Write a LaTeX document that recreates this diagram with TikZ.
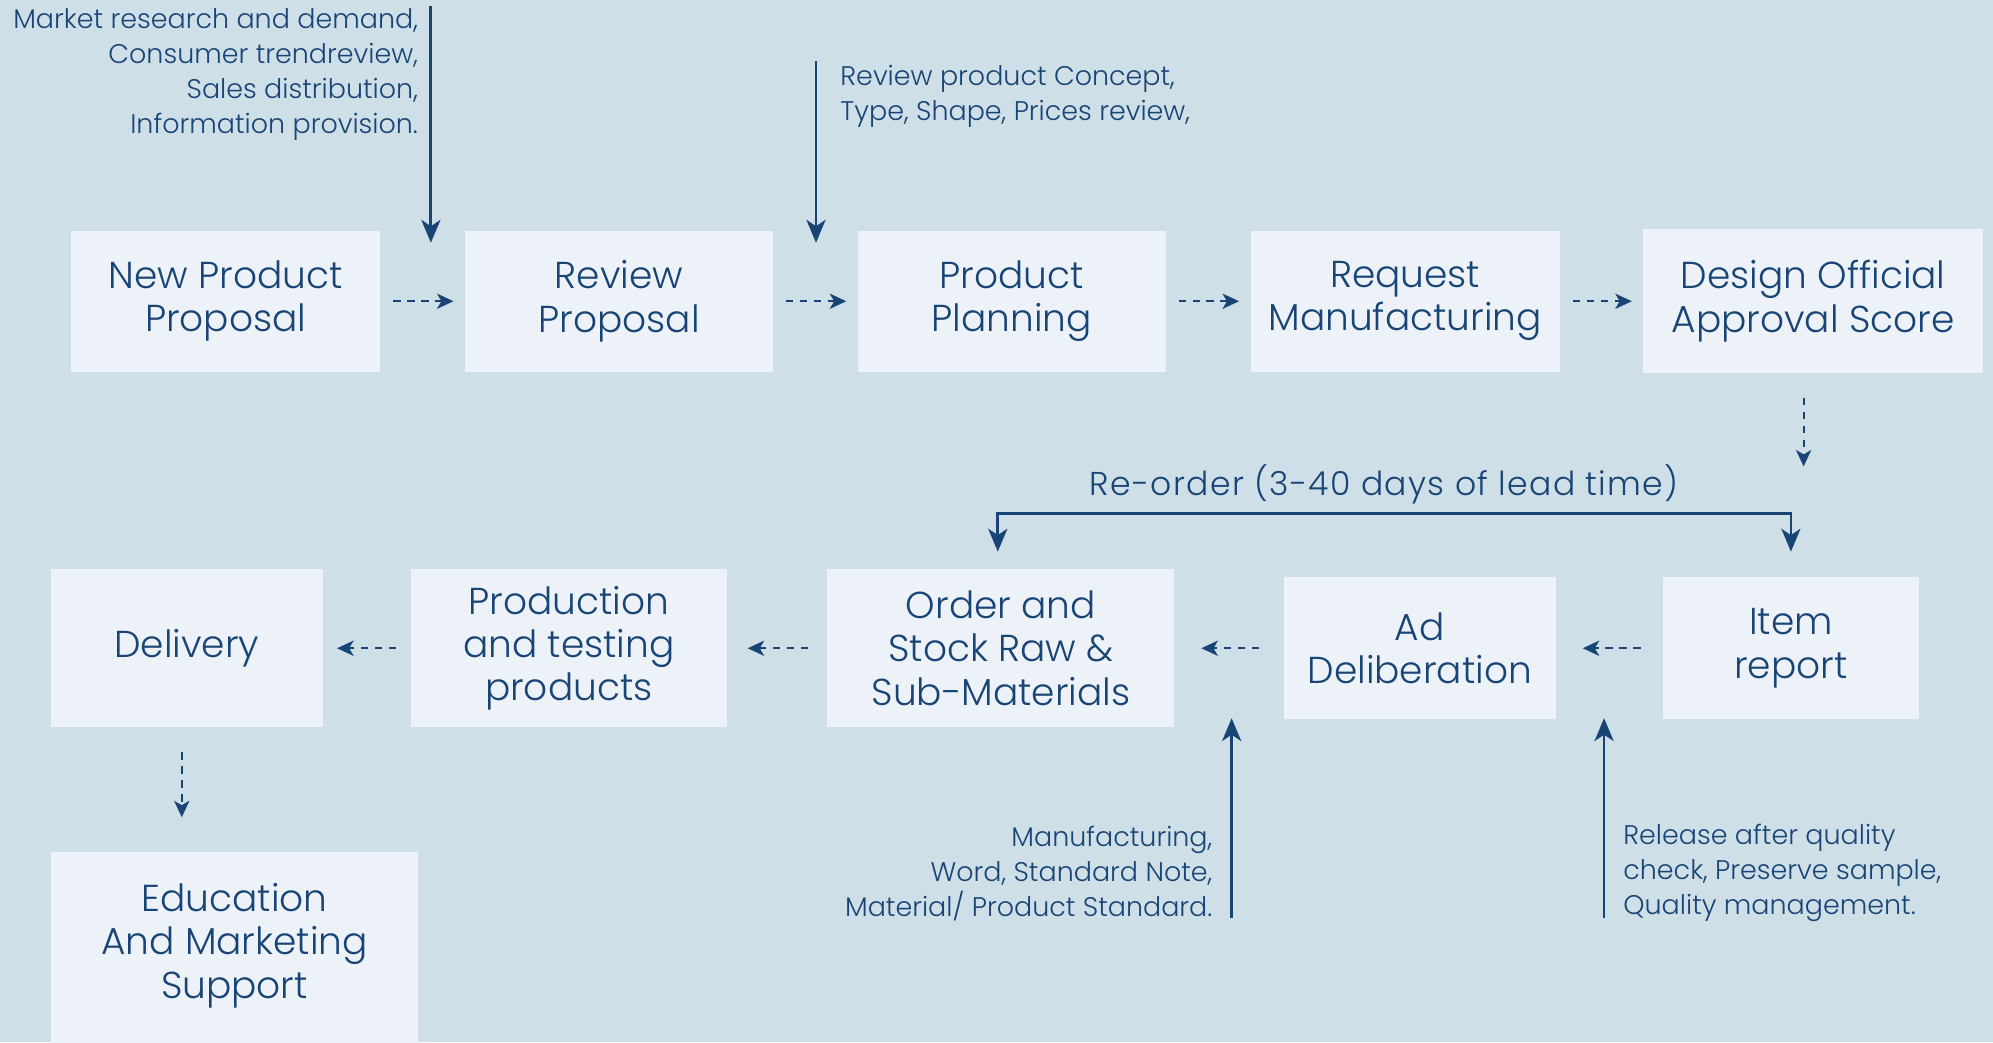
\documentclass[tikz,border=0pt]{standalone}
\usepackage{fontspec}
\setmainfont{Poppins}[UprightFont=* Light]
\usetikzlibrary{arrows.meta}
\definecolor{bg}{RGB}{207,223,232}
\definecolor{boxc}{RGB}{236,242,247}
\definecolor{navy}{RGB}{24,68,118}
\tikzset{
  box/.style={fill=boxc, inner sep=0pt, align=center, text=navy, font=\fontsize{29.5}{34}\selectfont},
  note/.style={inner sep=0pt, text=navy, font=\fontsize{21.2}{27.5}\selectfont},
  darr/.style={draw=navy, line width=1.5pt, dash pattern=on 6pt off 5pt, -{Stealth[length=13pt,width=12pt,inset=3.5pt]}},
  sarr/.style={draw=navy, line width=2.2pt, -{Stealth[length=18pt,width=15pt,inset=5pt]}},
}
\begin{document}
\begin{tikzpicture}[x=1pt,y=-1pt]
\fill[bg] (0,0) rectangle (1568,820);
\useasboundingbox (0,0) rectangle (1568,820);

% top row
\node[box, minimum width=243pt, minimum height=111pt] (b1) at (177.5,237) {New Product\\Proposal};
\node[box, minimum width=242pt, minimum height=111pt] (b2) at (487,237) {Review\\Proposal};
\node[box, minimum width=242pt, minimum height=111pt] (b3) at (796,237) {Product\\Planning};
\node[box, minimum width=243pt, minimum height=111pt] (b4) at (1105.5,237) {Request\\Manufacturing};
\node[box, minimum width=267pt, minimum height=113pt] (b5) at (1426.5,237) {Design Official\\Approval Score};

\draw[darr] ([xshift=10pt]b1.east) -- ([xshift=-9pt]b2.west);
\draw[darr] ([xshift=10pt]b2.east) -- ([xshift=-9pt]b3.west);
\draw[darr] ([xshift=10pt]b3.east) -- ([xshift=-9pt]b4.west);
\draw[darr] ([xshift=10pt]b4.east) -- ([xshift=-9pt]b5.west);

% bottom row
\node[box, minimum width=214pt, minimum height=124pt] (del) at (147,510) {Delivery};
\node[box, minimum width=249pt, minimum height=124pt] (prod) at (447.5,510) {Production\\and testing\\products};
\node[box, minimum width=273pt, minimum height=124pt] (ord) at (787.5,510) {Order and\\Stock Raw \&\\Sub-Materials};
\node[box, minimum width=214pt, minimum height=112pt] (ad) at (1117,510) {Ad\\Deliberation};
\node[box, minimum width=202pt, minimum height=112pt] (item) at (1409,510) {Item\\report};
\node[box, minimum width=289pt, minimum height=160pt] (edu) at (184.5,750) {};
\node[box, fill=none] (edut) at (184.5,744) {Education\\And Marketing\\Support};

\draw[darr] ([xshift=-17pt]item.west) -- ([xshift=21pt]ad.east);
\draw[darr] ([xshift=-19pt]ad.west) -- ([xshift=21pt]ord.east);
\draw[darr] ([xshift=-15pt]ord.west) -- ([xshift=16pt]prod.east);
\draw[darr] ([xshift=-11pt]prod.west) -- ([xshift=11pt]del.east);

% vertical dashed
\coordinate (v1a) at (1419,313);
\coordinate (v1b) at (1419,367);
\draw[darr] (v1a) -- (v1b);
\coordinate (v2a) at (143,592);
\coordinate (v2b) at (143,643);
\draw[darr] (v2a) -- (v2b);

% re-order
\node[note, font=\fontsize{26}{30}\selectfont\addfontfeatures{LetterSpace=4}] (reo) at (1089,381) {Re-order (3-40 days of lead time)};
\coordinate (r1) at (785,404);
\coordinate (r2) at (1409,404);
\draw[navy, line width=2.2pt, {Stealth[length=18pt,width=15pt,inset=5pt]}-{Stealth[length=18pt,width=15pt,inset=5pt]}] (785,434) -- (r1) -- (r2) -- (1409,434);

% notes + solid arrows
\node[note, align=right, anchor=east] (n1) at (329,58.5) {Market research and demand,\\Consumer trendreview,\\Sales distribution,\\Information provision.};
\coordinate (a1s) at (339,5);
\coordinate (a1e) at (339,191);
\draw[sarr] (a1s) -- (a1e);

\node[note, align=left, anchor=west] (n2) at (661,76) {Review product Concept,\\Type, Shape, Prices review,};
\coordinate (a2s) at (642,48);
\coordinate (a2e) at (642,191);
\draw[sarr] (a2s) -- (a2e);

\node[note, align=right, anchor=east] (n3) at (954,687) {Manufacturing,\\Word, Standard Note,\\Material/ Product Standard.};
\coordinate (a3s) at (969,722);
\coordinate (a3e) at (969,565);
\draw[sarr] (a3s) -- (a3e);

\node[note, align=left, anchor=west] (n4) at (1277,687) {Release after quality\\check, Preserve sample,\\Quality management.};
\coordinate (a4s) at (1262,722);
\coordinate (a4e) at (1262,565);
\draw[sarr] (a4s) -- (a4e);
\end{tikzpicture}
\end{document}
